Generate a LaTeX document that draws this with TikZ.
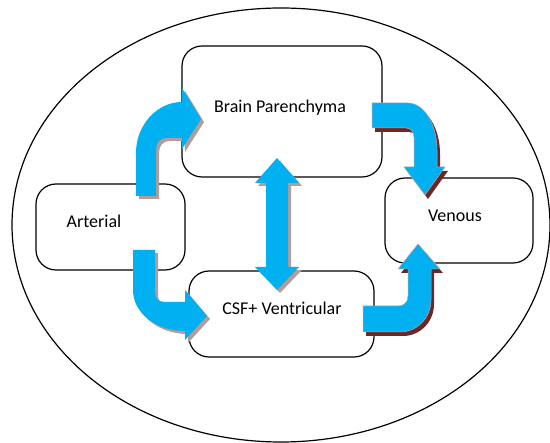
\documentclass[tikz,border=0pt]{standalone}
\usepackage{fontspec}
\setmainfont{Carlito}
\definecolor{flowblue}{HTML}{00B0F0}
\definecolor{shadegrey}{HTML}{B59C9C}
\definecolor{shadebrown}{HTML}{6B2626}
\definecolor{edgepink}{HTML}{C9A3A3}
\tikzset{
  compart/.style={draw=black, line width=1.2pt, rounded corners=20pt, fill=white, inner sep=0pt},
  lbl/.style={anchor=base, inner sep=0pt, font=\fontsize{18}{20}\selectfont},
  flow/.style={fill=flowblue, preaction={fill=shadegrey, transform canvas={shift={(3pt,-3pt)}}}},
  flowdark/.style={fill=flowblue, draw=edgepink, line width=0.5pt,
    preaction={fill=shadebrown, transform canvas={shift={(3pt,-4pt)}}}},
}
\begin{document}
\begin{tikzpicture}[x=1pt,y=-1pt]
\useasboundingbox (0,0) rectangle (550,443);
% outer boundary
\draw[line width=1.2pt] (281,225) ellipse [x radius=269, y radius=217];
% compartments
\node[compart, minimum width=200pt, minimum height=131pt] (brain) at (282,111.5) {};
\node[compart, minimum width=149pt, minimum height=86pt] (art) at (110.5,227) {};
\node[compart, minimum width=148pt, minimum height=85pt] (ven) at (459,220.5) {};
\node[compart, minimum width=185pt, minimum height=86pt] (csf) at (281.5,314) {};
\node[lbl] (brainT) at (280,113) {Brain Parenchyma};
\node[lbl] (artT) at (94,228) {Arterial};
\node[lbl] (venT) at (455,222) {Venous};
\node[lbl] (csfT) at (282,315) {CSF+ Ventricular};
% arterial -> brain
\fill[flow] (136,196) -- (136,153) .. controls (136,125) and (157,102) .. (182,102)
  -- (182,88) -- (201,119) -- (182,149) -- (182,138) -- (166,138)
  .. controls (160,138) and (156,143) .. (156,150) -- (156,196) -- cycle;
% arterial -> csf
\fill[flow] (133,250) -- (155,250) -- (155,292) .. controls (155,298) and (158,302) .. (165,302)
  -- (185,302) -- (185,290) -- (207,316) -- (185,340) -- (185,331)
  .. controls (156,331) and (133,313) .. (133,290) -- cycle;
% brain <-> csf
\fill[flow] (277,158) -- (299,183) -- (288,183) -- (288,267) -- (299,267) -- (277,290)
  -- (255,267) -- (266,267) -- (266,183) -- (255,183) -- cycle;
% brain -> venous
\filldraw[flowdark] (372,103) -- (408,103) .. controls (424,103) and (437,124) .. (437,150)
  -- (437,167) -- (445,167) -- (425,195) -- (404,167) -- (414,167) -- (414,138)
  .. controls (414,132) and (411,128) .. (406,128) -- (372,128) -- cycle;
% csf -> venous
\filldraw[flowdark] (363,306) -- (398,306) .. controls (404,306) and (408,302) .. (408,296)
  -- (408,269) -- (398,269) -- (418,244) -- (440,269) -- (431,269) -- (431,300)
  .. controls (431,318) and (417,332) .. (400,332) -- (363,332) -- cycle;
\end{tikzpicture}
\end{document}
